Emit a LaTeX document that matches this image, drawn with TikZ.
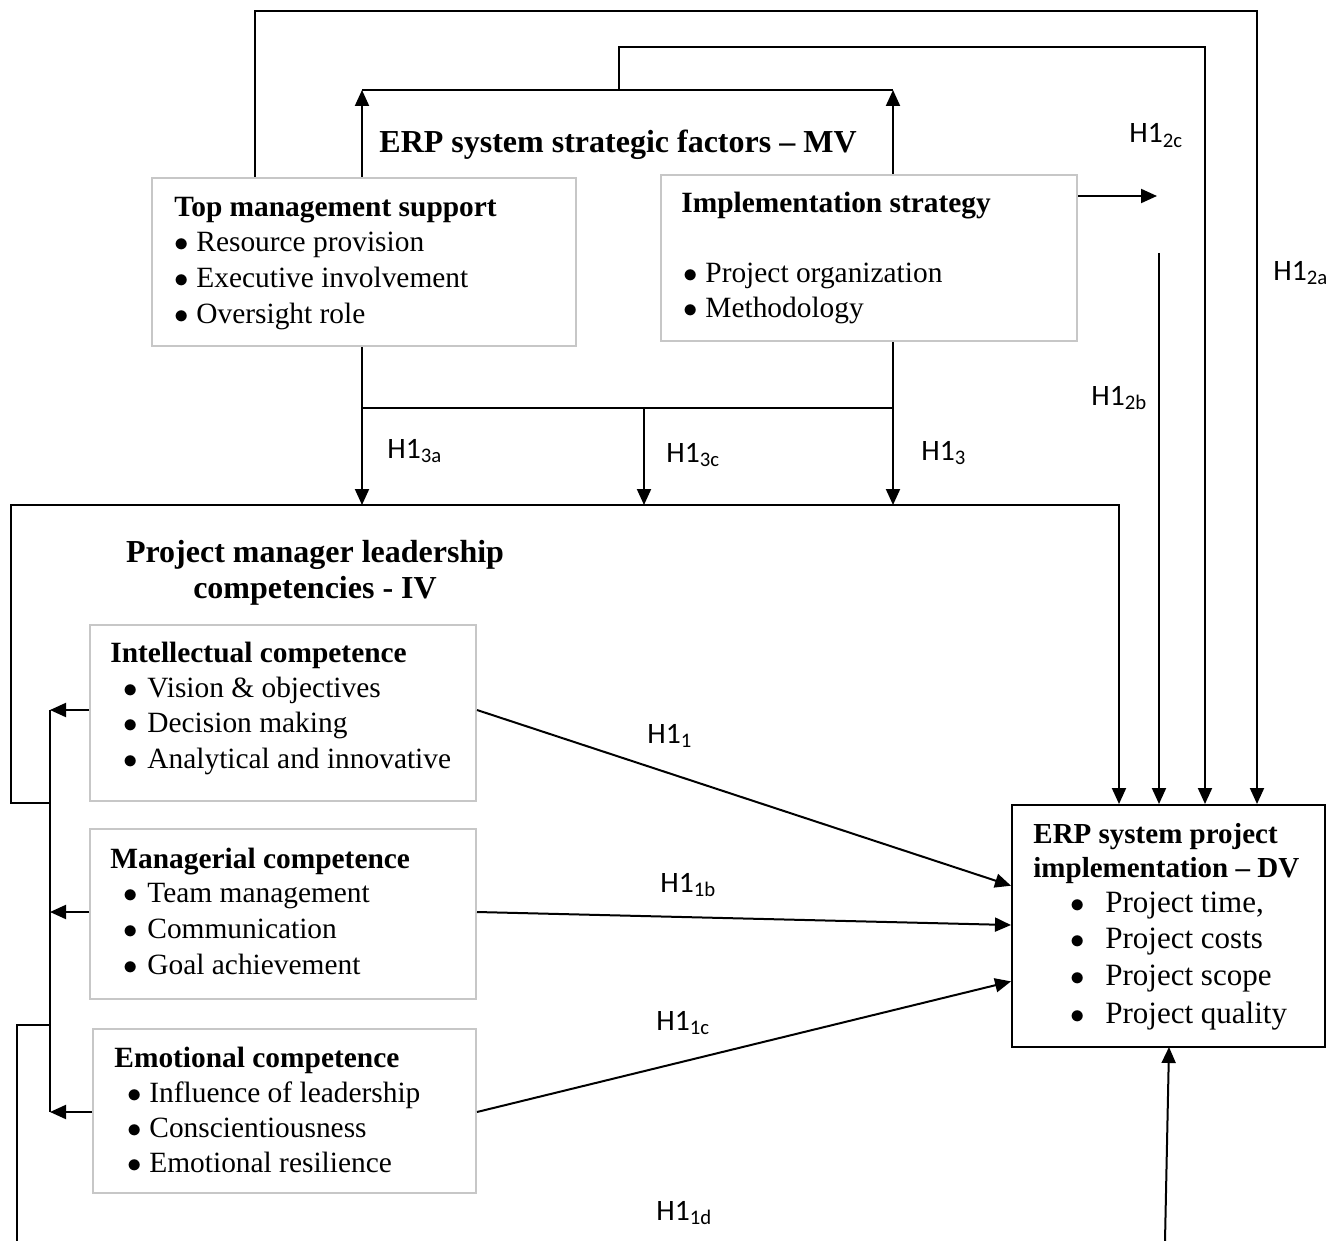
\documentclass[tikz,border=0pt]{standalone}
\usepackage{fontspec}
\setmainfont{Liberation Serif}
\newfontfamily\labelfont{Carlito}
\usetikzlibrary{arrows.meta,fit,calc}
\newcommand{\itembul}[1]{\makebox[#1][l]{$\bullet$}}

\begin{document}
\begin{tikzpicture}[x=0.5pt,y=-0.5pt,
  conn/.style={line width=1pt},
  arr/.style={conn,-{Triangle[length=8pt,width=7pt]}},
  gbox/.style={draw=black!22, line width=1pt, inner sep=0pt},
  kbox/.style={draw=black, line width=1pt, inner sep=0pt},
  txt/.style={anchor=base west, inner sep=0pt, font=\fontsize{14.7}{17}\selectfont},
  head/.style={anchor=base west, inner sep=0pt, font=\fontsize{14.7}{17}\selectfont\bfseries},
  big/.style={anchor=base, inner sep=0pt, font=\fontsize{16}{19}\selectfont\bfseries},
  dvtxt/.style={anchor=base west, inner sep=0pt, font=\fontsize{15.5}{18}\selectfont},
  dvhead/.style={anchor=base west, inner sep=0pt, font=\fontsize{14.5}{17}\selectfont\bfseries},
  hyp/.style={anchor=base west, inner sep=0pt, font=\labelfont\fontsize{14.8}{17}\selectfont}
]
\useasboundingbox (0,0) rectangle (1343,1241);

% ---------- boxes ----------
\node[gbox, fit={(152,178) (576,346)}] (tms) {};
\node[gbox, fit={(661,175) (1077,341)}] (impl) {};
\node[gbox, fit={(90,625) (476,801)}] (intel) {};
\node[gbox, fit={(90,829) (476,999)}] (manag) {};
\node[gbox, fit={(93,1029) (476,1193)}] (emot) {};
\node[kbox, fit={(1012,805) (1325,1047)}] (dv) {};

% ---------- group titles ----------
\node[big] (mvtitle) at (618,153) {ERP system strategic factors – MV};
\node[big] (ivtitleA) at (315,562) {Project manager leadership};
\node[big] (ivtitleB) at (315,598) {competencies - IV};

% ---------- top management support ----------
\node[head] (tmsh) at (174,217) {Top management support};
\node[txt] (tms1) at (174,252) {\itembul{11pt}Resource provision};
\node[txt] (tms2) at (174,287) {\itembul{11pt}Executive involvement};
\node[txt] (tms3) at (174,323) {\itembul{11pt}Oversight role};

% ---------- implementation strategy ----------
\node[head] (implh) at (681,213) {Implementation strategy};
\node[txt] (impl1) at (683,282) {\itembul{11pt}Project organization};
\node[txt] (impl2) at (683,317) {\itembul{11pt}Methodology};

% ---------- competences ----------
\node[head] (intelh) at (110,662) {Intellectual competence};
\node[txt] (intel1) at (123,697) {\itembul{12pt}Vision \& objectives};
\node[txt] (intel2) at (123,732) {\itembul{12pt}Decision making};
\node[txt] (intel3) at (123,768) {\itembul{12pt}Analytical and innovative};

\node[head] (managh) at (110,868) {Managerial competence};
\node[txt] (manag1) at (123,902) {\itembul{12pt}Team management};
\node[txt] (manag2) at (123,938) {\itembul{12pt}Communication};
\node[txt] (manag3) at (123,974) {\itembul{12pt}Goal achievement};

\node[head] (emoth) at (114,1067) {Emotional competence};
\node[txt] (emot1) at (127,1102) {\itembul{11pt}Influence of leadership};
\node[txt] (emot2) at (127,1137) {\itembul{11pt}Conscientiousness};
\node[txt] (emot3) at (127,1172) {\itembul{11pt}Emotional resilience};

% ---------- dependent variable ----------
\node[dvhead] (dvh1) at (1033,843) {ERP system project};
\node[dvhead] (dvh2) at (1033,877) {implementation – DV};
\node[dvtxt] (dv1) at (1070,912) {\itembul{17.5pt}Project time,};
\node[dvtxt] (dv2) at (1070,948) {\itembul{17.5pt}Project costs};
\node[dvtxt] (dv3) at (1070,985) {\itembul{17.5pt}Project scope};
\node[dvtxt] (dv4) at (1070,1023) {\itembul{17.5pt}Project quality};

% ---------- hypothesis labels ----------
\node[hyp] (h2c) at (1129,143) {H1\textsubscript{2c}};
\node[hyp] (h2a) at (1273,280) {H1\textsubscript{2a}};
\node[hyp] (h2b) at (1091,405) {H1\textsubscript{2b}};
\node[hyp] (h3a) at (387,458) {H1\textsubscript{3a}};
\node[hyp] (h3c) at (666,462) {H1\textsubscript{3c}};
\node[hyp] (h3) at (921,460) {H1\textsubscript{3}};
\node[hyp] (h1) at (647,743) {H1\textsubscript{1}};
\node[hyp] (h1b) at (660,892) {H1\textsubscript{1b}};
\node[hyp] (h1c) at (656,1030) {H1\textsubscript{1c}};
\node[hyp] (h1d) at (656,1220) {H1\textsubscript{1d}};

% ---------- routing points ----------
\coordinate (topA) at (255,11);   \coordinate (topAr) at (1257,11);
\coordinate (topB) at (619,47);   \coordinate (topBr) at (1205,47);
\coordinate (mvL) at (362,90);    \coordinate (mvR) at (893,90);
\coordinate (mvM) at (619,90);
\coordinate (isR) at (1157,196);  \coordinate (sideB) at (1159,253);
\coordinate (modL) at (362,408);  \coordinate (modR) at (893,408);
\coordinate (modM) at (644,408);
\coordinate (ivTL) at (11,505);   \coordinate (ivTR) at (1119,505);
\coordinate (ivBL) at (11,803);   \coordinate (ivBR) at (49,803);
\coordinate (busT) at (50,710);   \coordinate (busM) at (50,912);
\coordinate (busB) at (50,1112);  \coordinate (busJ) at (50,1025);
\coordinate (lowL) at (17,1025);  \coordinate (lowLB) at (17,1241);
\coordinate (lowR) at (1165,1241);\coordinate (dvIn) at (1169,1047);

% ---------- strategic factors to the outcome ----------
\draw[arr] (tms.north -| topA) -- (topA) -- (topAr) -- (topAr |- dv.north);
\draw[arr] (mvM) -- (topB) -- (topBr) -- (topBr |- dv.north);
\draw[arr] (tms.north -| mvL) -- (mvL);
\draw[arr] (impl.north -| mvR) -- (mvR);
\draw[conn] (mvL) -- (mvR);
\draw[arr] (isR -| impl.east) -- (isR);
\draw[arr] (sideB) -- (sideB |- dv.north);

% ---------- moderation onto the competencies ----------
\draw[arr] (tms.south -| modL) -- (modL |- ivTL);
\draw[arr] (impl.south -| modR) -- (modR |- ivTL);
\draw[conn] (modL) -- (modR);
\draw[arr] (modM) -- (modM |- ivTL);

% ---------- competencies frame ----------
\draw[arr] (ivBR) -- (ivBL) -- (ivTL) -- (ivTR) -- (ivTR |- dv.north);

% ---------- left collector ----------
\draw[conn] (busT) -- (busB);
\draw[arr] (busT -| intel.west) -- (busT);
\draw[arr] (busM -| manag.west) -- (busM);
\draw[arr] (busB -| emot.west) -- (busB);
\draw[conn] (busJ) -- (lowL) -- (lowLB);
\draw[arr] (lowR) -- (dvIn);

% ---------- competencies to the outcome ----------
\draw[arr] (intel.east |- busT) -- ($(dv.north west)!0.335!(dv.south west)$);
\draw[arr] (manag.east |- busM) -- ($(dv.north west)!0.496!(dv.south west)$);
\draw[arr] (emot.east |- busB) -- ($(dv.north west)!0.727!(dv.south west)$);
\end{tikzpicture}
\end{document}
